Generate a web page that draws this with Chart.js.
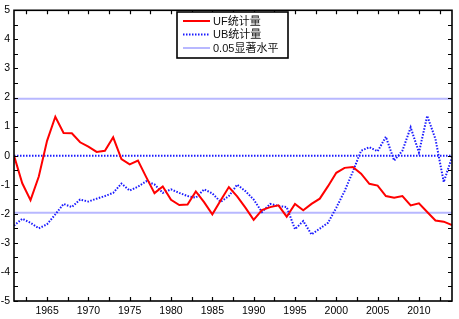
<!DOCTYPE html>
<html>
<head>
<meta charset="utf-8">
<script src="https://cdn.jsdelivr.net/npm/chart.js@4.4.1/dist/chart.umd.min.js"></script>
<style>
html,body{margin:0;padding:0;background:#fff;}
#wrap{width:459px;height:319px;position:relative;}
</style>
</head>
<body>
<div id="wrap"><canvas id="c" width="459" height="319"></canvas></div>
<script>
const years = [];
for (let y = 1961; y <= 2014; y++) years.push(y);

const ufValues = [
  0.00, -0.95, -1.53, -0.72, 0.51, 1.34, 0.78, 0.77, 0.46, 0.31,
  0.13, 0.17, 0.63, -0.12, -0.30, -0.17, -0.74, -1.29, -1.06, -1.52,
  -1.70, -1.68, -1.23, -1.60, -2.02, -1.54, -1.08, -1.40, -1.79, -2.21,
  -1.87, -1.77, -1.71, -2.10, -1.66, -1.88, -1.66, -1.48, -1.05, -0.59,
  -0.42, -0.39, -0.62, -0.97, -1.03, -1.39, -1.45, -1.39, -1.71, -1.64,
  -1.94, -2.23, -2.27, -2.39
];
const ubValues = [
  -2.41, -2.17, -2.31, -2.50, -2.36, -2.02, -1.66, -1.77, -1.51, -1.58,
  -1.48, -1.39, -1.28, -0.96, -1.20, -1.07, -0.88, -0.99, -1.28, -1.16,
  -1.28, -1.39, -1.45, -1.16, -1.30, -1.59, -1.39, -1.00, -1.22, -1.51,
  -1.94, -1.66, -1.73, -1.77, -2.53, -2.25, -2.71, -2.51, -2.31, -1.79,
  -1.22, -0.55, 0.17, 0.29, 0.15, 0.65, -0.17, 0.17, 0.97, 0.11,
  1.37, 0.57, -0.91, -0.05
];
const sigLevel = 1.96;
const xRange = [1961, 2014];
const yRange = [-5, 5];
const xTickLabels = [1965, 1970, 1975, 1980, 1985, 1990, 1995, 2000, 2005, 2010];
const seriesLabels = ['UF统计量', 'UB统计量', '0.05显著水平'];

const FONT = "'Liberation Sans', Arial, 'Noto Sans CJK SC', sans-serif";

const pts = vals => years.map((yr, i) => ({x: yr, y: vals[i]}));
const hline = v => [{x: xRange[0], y: v}, {x: xRange[1], y: v}];

const RED = '#ff0000', BLUE = '#1a1aff', LIGHT = '#b8b8ff';

const datasets = [
  {label: seriesLabels[0], data: pts(ufValues), borderColor: RED, borderWidth: 2, pointRadius: 0, tension: 0, inLegend: true},
  {label: seriesLabels[1], data: pts(ubValues), borderColor: BLUE, borderWidth: 2, borderDash: [1.5, 1.5], pointRadius: 0, tension: 0, inLegend: true},
  {label: seriesLabels[2], data: hline(sigLevel), borderColor: LIGHT, borderWidth: 2, pointRadius: 0, inLegend: true},
  {label: '', data: hline(-sigLevel), borderColor: LIGHT, borderWidth: 2, pointRadius: 0},
  {label: '', data: hline(0), borderColor: BLUE, borderWidth: 2, borderDash: [1.5, 1.5], pointRadius: 0}
];

const framePlugin = {
  id: 'frame',
  afterDatasetsDraw(chart) {
    const {ctx, chartArea: {left, right, top, bottom}, scales: {x, y}} = chart;
    ctx.save();
    ctx.strokeStyle = '#000';
    ctx.lineWidth = 1.2;
    ctx.beginPath();
    const tl = 4;
    for (let v = yRange[0]; v <= yRange[1] + 1e-9; v += 0.5) {
      const py = Math.round(y.getPixelForValue(v)) + 0.5;
      ctx.moveTo(left, py); ctx.lineTo(left + tl, py);
      ctx.moveTo(right, py); ctx.lineTo(right - tl, py);
    }
    for (let v = 1962.5; v < xRange[1]; v += 2.5) {
      const px = Math.round(x.getPixelForValue(v)) + 0.5;
      ctx.moveTo(px, bottom); ctx.lineTo(px, bottom - tl);
      ctx.moveTo(px, top); ctx.lineTo(px, top + tl);
    }
    ctx.stroke();
    ctx.lineWidth = 1.6;
    ctx.strokeRect(left, top, right - left, bottom - top);

    // legend
    const bx = 177, by = 12, bw = 111, bh = 46;
    ctx.fillStyle = '#fff';
    ctx.fillRect(bx, by, bw, bh);
    ctx.lineWidth = 1.6;
    ctx.strokeStyle = '#000';
    ctx.strokeRect(bx, by, bw, bh);
    const items = chart.data.datasets.filter(d => d.inLegend);
    items.forEach((d, i) => {
      const ry = by + 9 + i * 13.5;
      ctx.beginPath();
      ctx.strokeStyle = d.borderColor;
      ctx.lineWidth = d.borderWidth;
      ctx.setLineDash(d.borderDash || []);
      ctx.moveTo(183, ry); ctx.lineTo(210, ry);
      ctx.stroke();
      ctx.setLineDash([]);
      ctx.fillStyle = '#111';
      ctx.font = '11px ' + FONT;
      ctx.textBaseline = 'middle';
      ctx.textAlign = 'left';
      ctx.fillText(d.label, 213, ry + 0.5);
    });
    ctx.restore();
  }
};

new Chart(document.getElementById('c'), {
  type: 'line',
  data: {datasets},
  options: {
    responsive: false,
    animation: false,
    layout: {padding: {left: 0, right: 7, top: 9, bottom: 0}},
    plugins: {legend: {display: false}, tooltip: {enabled: false}},
    scales: {
      x: {
        type: 'linear', min: xRange[0], max: xRange[1],
        grid: {display: false, drawTicks: false},
        border: {display: false},
        afterBuildTicks: s => { s.ticks = xTickLabels.map(v => ({value: v})); },
        afterFit: s => { s.height = 18; },
        ticks: {color: '#000', padding: 4, maxRotation: 0, autoSkip: false,
          font: {family: FONT, size: 10.5}, callback: v => String(v)}
      },
      y: {
        type: 'linear', min: yRange[0], max: yRange[1],
        grid: {display: false, drawTicks: false},
        border: {display: false},
        afterFit: s => { s.width = 14; },
        ticks: {color: '#000', padding: 4, stepSize: 1,
          font: {family: FONT, size: 10.5}, callback: v => String(v)}
      }
    }
  },
  plugins: [framePlugin]
});
</script>
</body>
</html>
